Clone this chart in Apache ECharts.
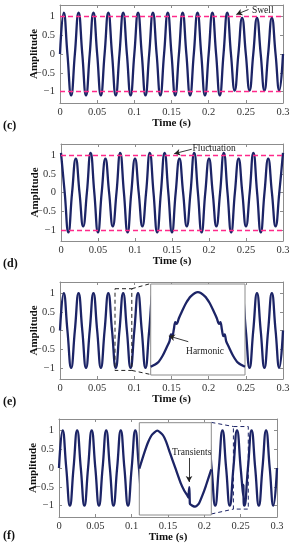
<!DOCTYPE html>
<html>
<head>
<meta charset="utf-8">
<script src="https://cdn.jsdelivr.net/npm/echarts@6/dist/echarts.min.js"></script>
<style>
html,body{margin:0;padding:0;background:#fff;}
#chart{width:293px;height:550px;}
</style>
</head>
<body>
<div id="chart"></div>
<script>
// ---------- DATA ----------
const xTicks = [0, 0.05, 0.1, 0.15, 0.2, 0.25, 0.3];
const yTicks = [-1, -0.5, 0, 0.5, 1];

// quarter-period sample times (s)
const timeQ = [0,0.005,0.01,0.015,0.02,0.025,0.03,0.035,0.04,0.045,0.05,0.055,0.06,0.065,0.07,0.075,0.08,0.085,0.09,0.095,0.1,0.105,0.11,0.115,0.12,0.125,0.13,0.135,0.14,0.145,0.15,0.155,0.16,0.165,0.17,0.175,0.18,0.185,0.19,0.195,0.2,0.205,0.21,0.215,0.22,0.225,0.23,0.235,0.24,0.245,0.25,0.255,0.26,0.265,0.27,0.275,0.28,0.285,0.29,0.295,0.3];

// (c) swell
const ampSwell = [0,1.1,0,-1.1, 0,1.1,0,-1.1, 0,1.1,0,-1.1, 0,1.1,0,-1.1, 0,1.1,0,-1.1, 0,1.1,0,-1.1,
  0,1.1,0,-1.1, 0,1.1,0,-1.1, 0,1.1,0,-1.1, 0,1.1,0,-1.1, 0,1.1,0,-1.1, 0,1.1,0,-0.97,
  0,0.96,0,-0.97, 0,0.96,0,-0.97, 0,0.96,0,-0.97, 0];

// (d) fluctuation
const ampFluct = [1.06,0,-1.07,0, 0.91,0,-0.91,0, 1.06,0,-1.07,0, 0.91,0,-0.91,0, 1.06,0,-1.07,0,
  0.91,0,-0.91,0, 1.06,0,-1.07,0, 1.06,0,-1.07,0, 0.91,0,-0.91,0, 1.06,0,-1.07,0,
  0.91,0,-0.91,0, 1.06,0,-1.07,0, 0.91,0,-0.91,0, 1.06,0,-1.07,0, 0.91,0,-0.91,0, 1.06];

// (e) harmonic – main trace
const ampHarm = [0,1,0,-1, 0,1,0,-1, 0,1,0,-1, 0,1,0,-1, 0,1,0,-1, 0,1,0,-1, 0,1,0,-1, 0,1,0,-1,
  0,1,0,-1, 0,1,0,-1, 0,1,0,-1, 0,1,0,-1, 0,1,0,-1, 0,1,0,-1, 0,1,0,-1, 0];

// (e) harmonic – zoomed cycle
const timeHarmZoom = [0.075,0.0765,0.0775,0.0785,0.079,0.0793,0.0796,0.0799,0.0802,0.0805,0.081,0.0815,0.0825,0.0835,0.085,
  0.0865,0.0875,0.0885,0.089,0.0895,0.0898,0.0901,0.0904,0.0907,0.091,0.0915,0.0925,0.0935,0.095];
const ampHarmZoom = [-1,-0.89,-0.71,-0.45,-0.31,-0.13,-0.18,0.0,0.2,0.15,0.31,0.45,0.71,0.89,1,
  0.89,0.71,0.45,0.31,0.15,0.2,0.0,-0.18,-0.13,-0.31,-0.45,-0.71,-0.89,-1];

// (f) transients – main trace
const timeTrans = [0,0.005,0.01,0.015,0.02,0.025,0.03,0.035,0.04,0.045,0.05,0.055,0.06,0.065,0.07,0.075,0.08,0.085,0.09,0.095,0.1,0.105,0.11,0.115,0.12,0.125,0.13,0.135,0.14,0.145,0.15,0.155,0.16,0.165,0.17,0.175,0.18,0.185,0.19,0.195,0.2,0.205,0.21,0.215,0.22,0.225,0.23,0.235,0.24,0.245,0.25,0.2536,0.2538,0.2541,0.255,0.26,0.265,0.27,0.275,0.28,0.285,0.29,0.295,0.3];
const ampTrans = [0,1,0,-1, 0,1,0,-1, 0,1,0,-1, 0,1,0,-1, 0,1,0,-1, 0,1,0,-1, 0,1,0,-1, 0,1,0,-1,
  0,1,0,-1, 0,1,0,-1, 0,1,0,-1, 0,1,0,-1, 0,1,0,-0.76,-0.45,-0.9,-1, 0,1,0,-1, 0,1,0,-1, 0];

// (f) transients – zoomed cycle
const timeTransZoom = [0.24,0.2415,0.2425,0.2435,0.245,0.2465,0.2475,0.2485,0.25,0.2515,0.2525,0.2533,0.25365,0.25375,0.2539,0.25405,0.2543,0.2548,0.2555,0.2565,0.2575,0.2585,0.26];
const ampTransZoom = [0,0.45,0.71,0.89,1,0.89,0.7,0.42,0.02,-0.38,-0.58,-0.7,-0.76,-0.62,-0.49,-0.92,-0.95,-0.98,-1,-0.93,-0.71,-0.45,-0.02];

// zoom boxes (data coords of main axes): [tStart, tEnd, yLow, yHigh]
const zoomBoxHarm = [0.074, 0.0966, -1.07, 1.12];
const zoomBoxTrans = [0.24, 0.2605, -1.09, 1.1];

// ---------- CHART ----------
const FONT = 'Liberation Serif';
const LINE = '#1c2466';
const FRAME = '#8c8c8c';
const pairs = (t, v) => t.map((x, i) => [x, v[i]]);
const minus = v => String(v).replace('-', '\u2212');
const isTick = (list, v) => list.some(t => Math.abs(t - v) < 1e-9);

const mainGrids = [
  {left: 60, top: 5, width: 223, height: 98},
  {left: 61, top: 144, width: 222, height: 97},
  {left: 60, top: 282, width: 223, height: 97},
  {left: 59, top: 419, width: 218, height: 98}
];
const insetGrids = [
  {left: 150.7, top: 284, width: 94.3, height: 91},
  {left: 139.3, top: 422.7, width: 72, height: 92.3}
];

const grid = mainGrids.map(g => Object.assign({show: false}, g))
  .concat(insetGrids.map(g => Object.assign({show: true, zlevel: 1, backgroundColor: '#fff', borderColor: '#8c8c8c', borderWidth: 1}, g)));

const xAxis = [], yAxis = [];
mainGrids.forEach((g, i) => {
  xAxis.push({
    type: 'value', gridIndex: i, min: 0, max: 0.3, interval: 0.05,
    axisLine: {show: true, onZero: false, lineStyle: {color: FRAME}},
    axisTick: {inside: true, length: 3, lineStyle: {color: FRAME}},
    axisLabel: {margin: 4, fontFamily: FONT, fontSize: 10.5, color: '#333', hideOverlap: false,
      formatter: v => isTick(xTicks, v) ? String(+v.toFixed(3)) : ''},
    splitLine: {show: false},
    name: 'Time (s)', nameLocation: 'middle', nameGap: 15, nameMoveOverlap: false,
    nameTextStyle: {fontFamily: FONT, fontWeight: 'bold', fontSize: 11, color: '#111'}
  });
  yAxis.push({
    type: 'value', gridIndex: i, min: -1.3, max: 1.3, splitNumber: 5,
    axisLine: {show: true, onZero: false, lineStyle: {color: FRAME}},
    axisTick: {inside: true, length: 3, lineStyle: {color: FRAME}},
    axisLabel: {margin: 5, fontFamily: FONT, fontSize: 10.5, color: '#333', hideOverlap: false,
      showMinLabel: false, showMaxLabel: false,
      formatter: v => isTick(yTicks, v) ? minus(v) : ''},
    splitLine: {show: false},
    name: 'Amplitude', nameLocation: 'middle', nameGap: 20, nameRotate: 90, nameMoveOverlap: false,
    nameTextStyle: {fontFamily: FONT, fontWeight: 'bold', fontSize: 11, color: '#111'}
  });
});
mainGrids.forEach((g, i) => {
  xAxis.push({
    type: 'value', gridIndex: i, position: 'top', min: 0, max: 0.3, interval: 0.05,
    axisLine: {show: true, onZero: false, lineStyle: {color: FRAME}},
    axisTick: {inside: true, length: 3, lineStyle: {color: FRAME}},
    axisLabel: {show: false}, splitLine: {show: false}
  });
  yAxis.push({
    type: 'value', gridIndex: i, position: 'right', min: -1.3, max: 1.3, splitNumber: 5,
    axisLine: {show: true, onZero: false, lineStyle: {color: FRAME}},
    axisTick: {inside: true, length: 3, lineStyle: {color: FRAME}},
    axisLabel: {show: false}, splitLine: {show: false}
  });
});
// inset axes
xAxis.push({type: 'value', gridIndex: 4, min: 0.075, max: 0.095, show: false, zlevel: 1});
yAxis.push({type: 'value', gridIndex: 4, min: -1.22, max: 1.22, show: false, zlevel: 1});
xAxis.push({type: 'value', gridIndex: 5, min: 0.24, max: 0.26, show: false, zlevel: 1});
yAxis.push({type: 'value', gridIndex: 5, min: -1.22, max: 1.21, show: false, zlevel: 1});

const textStyle = {fontFamily: FONT, fontSize: 9.5, color: '#222'};
const arrow = (a, b) => [{coord: a, symbol: 'none'}, {coord: b, symbol: 'arrow', symbolSize: [5, 6]}];
const label = (pos, txt) => ({coord: pos, value: txt, symbolSize: 1, itemStyle: {color: 'rgba(0,0,0,0)'},
  label: Object.assign({show: true, position: 'inside', formatter: txt}, textStyle)});
const pinkLines = [
  {yAxis: 1, lineStyle: {color: '#ff2a8a', type: [5, 3], width: 1.4}},
  {yAxis: -1, lineStyle: {color: '#ff2a8a', type: [5, 3], width: 1.4}}
];
const arrowStyle = {color: '#222', width: 0.9, type: 'solid'};

function wave(idx, data, extra) {
  return Object.assign({
    type: 'line', xAxisIndex: idx, yAxisIndex: idx, data: data,
    smooth: 0.5, symbol: 'none', lineStyle: {color: LINE, width: 2.3}, z: 2
  }, extra || {});
}
function boxSeries(idx, b, color) {
  return {
    type: 'line', xAxisIndex: idx, yAxisIndex: idx, symbol: 'none', z: 4,
    data: [[b[0], b[3]], [b[1], b[3]], [b[1], b[2]], [b[0], b[2]], [b[0], b[3]]],
    lineStyle: {color: color, width: 1, type: [4, 3]}
  };
}
function connector(idx, a, b, color) {
  return {
    type: 'line', xAxisIndex: idx, yAxisIndex: idx, symbol: 'none', z: 4,
    data: [a, b], lineStyle: {color: color, width: 1, type: [4, 3]}
  };
}
function markers(zl, arrows, texts, extraLines) {
  return {
    markLine: {silent: true, zlevel: zl, z: 10, symbol: ['none', 'none'], label: {show: false},
      data: (extraLines || []).concat(arrows.map(a => arrow(a[0], a[1]))), lineStyle: arrowStyle},
    markPoint: {silent: true, zlevel: zl, z: 10, data: texts.map(t => label(t[0], t[1]))}
  };
}

const series = [
  wave(0, pairs(timeQ, ampSwell), markers(0, [[[0.2536, 1.18], [0.2372, 1.05]]], [[[0.2728, 1.134], 'Swell']], pinkLines)),
  wave(1, pairs(timeQ, ampFluct), markers(0, [[[0.1767, 1.16], [0.153, 1.04]]], [[[0.2069, 1.175], 'Fluctuation']], pinkLines)),
  wave(2, pairs(timeQ, ampHarm)),
  wave(3, pairs(timeTrans, ampTrans)),
  boxSeries(2, zoomBoxHarm, '#222'),
  connector(2, [zoomBoxHarm[1], zoomBoxHarm[3]], [0.1222, 1.26], '#222'),
  connector(2, [zoomBoxHarm[1], zoomBoxHarm[2]], [0.1222, -1.18], '#222'),
  boxSeries(3, zoomBoxTrans, '#1c2466'),
  connector(3, [0.2097, 1.21], [zoomBoxTrans[0], zoomBoxTrans[3]], '#1c2466'),
  connector(3, [0.2097, -1.22], [zoomBoxTrans[0], zoomBoxTrans[2]], '#1c2466'),
  wave(8, pairs(timeHarmZoom, ampHarmZoom), Object.assign({zlevel: 1, smooth: 0.3},
    markers(1, [[[0.08297, -0.327], [0.07885, -0.174]]], [[[0.08652, -0.595], 'Harmonic']]))),
  wave(9, pairs(timeTransZoom, ampTransZoom), Object.assign({zlevel: 1, smooth: 0.2},
    markers(1, [[[0.25381, 0.281], [0.25381, -0.351]]], [[[0.25456, 0.404], 'Transients']])))
];

const panelLabels = [['(c)', 120], ['(d)', 258], ['(e)', 396], ['(f)', 530]];
const graphic = panelLabels.map(p => ({
  type: 'text', left: 3, top: p[1], z: 10,
  style: {text: p[0], fontFamily: FONT, fontWeight: 'bold', fontSize: 12, fill: '#111'}
}));

const chart = echarts.init(document.getElementById('chart'), null, {renderer: 'canvas'});
chart.setOption({
  animation: false,
  backgroundColor: '#fff',
  grid: grid, xAxis: xAxis, yAxis: yAxis, series: series, graphic: graphic
});
</script>
</body>
</html>
